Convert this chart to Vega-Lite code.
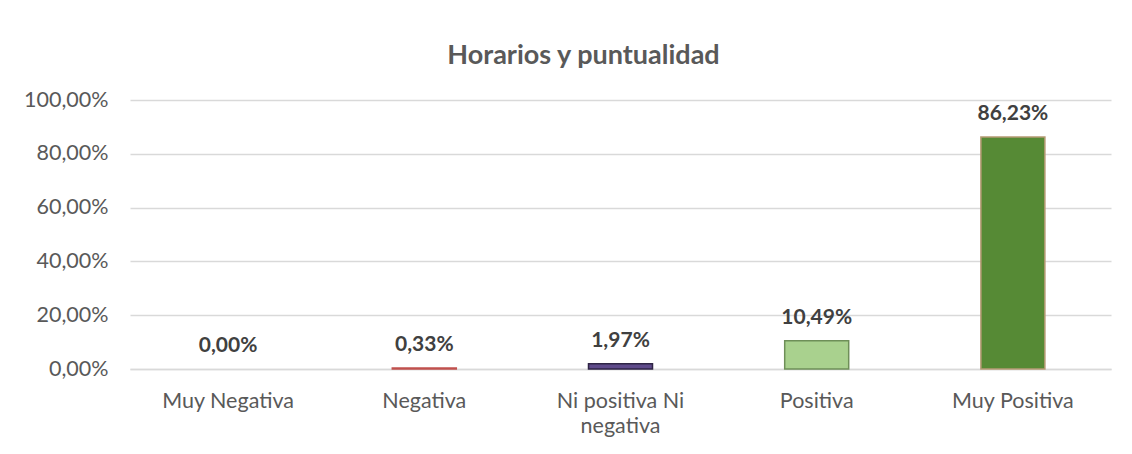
{
  "$schema": "https://vega.github.io/schema/vega-lite/v6.json",
  "width": 981,
  "height": 269,
  "autosize": {"type": "none"},
  "padding": {"left": 130, "top": 100, "right": 21, "bottom": 85},
  "background": "white",
  "title": {
    "text": "Horarios y puntualidad",
    "font": "Lato",
    "fontSize": 27,
    "fontWeight": "bold",
    "color": "#595959",
    "anchor": "middle",
    "dx": -37,
    "offset": 19
  },
  "config": {
    "view": {"stroke": null},
    "locale": {"number": {"decimal": ",", "thousands": ".", "grouping": [3], "currency": ["", " €"]}}
  },
  "data": {
    "values": [
      {"categoria": "Muy Negativa", "valor": 0.0},
      {"categoria": "Negativa", "valor": 0.0033},
      {"categoria": "Ni positiva Ni negativa", "valor": 0.0197},
      {"categoria": "Positiva", "valor": 0.1049},
      {"categoria": "Muy Positiva", "valor": 0.8623}
    ]
  },
  "encoding": {
    "x": {
      "field": "categoria",
      "type": "nominal",
      "sort": null,
      "scale": {"paddingInner": 0, "paddingOuter": 0},
      "axis": {
        "title": null,
        "labelAngle": 0,
        "labelFont": "Lato",
        "labelFontSize": 21.5,
        "labelColor": "#595959",
        "labelPadding": 21,
        "labelLineHeight": 25,
        "ticks": false,
        "domainColor": "#d9d9d9",
        "domainWidth": 1.5,
        "labelExpr": "datum.label == 'Ni positiva Ni negativa' ? ['Ni positiva Ni', 'negativa'] : datum.label"
      }
    },
    "y": {
      "field": "valor",
      "type": "quantitative",
      "scale": {"domain": [0, 1]},
      "axis": {
        "title": null,
        "values": [0, 0.2, 0.4, 0.6, 0.8, 1.0],
        "format": ".2%",
        "labelFont": "Lato",
        "labelFontSize": 21.5,
        "labelColor": "#595959",
        "labelPadding": 22,
        "ticks": false,
        "domain": false,
        "gridColor": "#d9d9d9",
        "gridWidth": 1.5
      }
    }
  },
  "layer": [
    {
      "mark": {"type": "bar", "size": 64, "strokeWidth": 1.5},
      "encoding": {
        "color": {
          "field": "categoria",
          "type": "nominal",
          "legend": null,
          "scale": {
            "domain": ["Muy Negativa", "Negativa", "Ni positiva Ni negativa", "Positiva", "Muy Positiva"],
            "range": ["#4472C4", "#E8A0A0", "#5F4B8B", "#A9D18E", "#568A35"]
          }
        },
        "stroke": {
          "field": "categoria",
          "type": "nominal",
          "legend": null,
          "scale": {
            "domain": ["Muy Negativa", "Negativa", "Ni positiva Ni negativa", "Positiva", "Muy Positiva"],
            "range": ["transparent", "#C0504D", "#2F2545", "#6E8F58", "#B59A73"]
          }
        }
      }
    },
    {
      "mark": {
        "type": "text",
        "baseline": "alphabetic",
        "dy": -17,
        "font": "Lato",
        "fontSize": 21,
        "fontWeight": "bold",
        "color": "#404040"
      },
      "encoding": {
        "text": {"field": "valor", "type": "quantitative", "format": ".2%"}
      }
    }
  ]
}
